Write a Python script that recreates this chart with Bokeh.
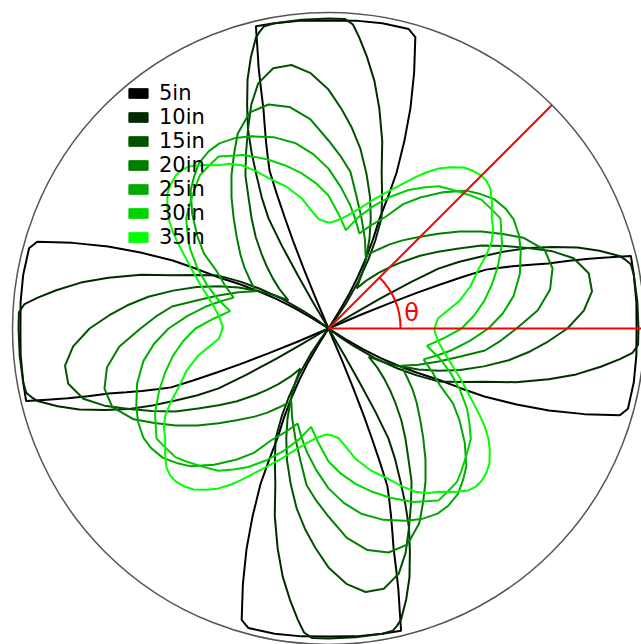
import numpy as np
from bokeh.plotting import figure
from bokeh.models import Range1d, Legend, LegendItem
from bokeh.core.properties import value
from bokeh.embed import file_html
from bokeh.resources import INLINE

# ---- data (one 90-degree period of each curve, angle in degrees, radius as a fraction
#      of the outer circle; the pattern repeats every 90 degrees)
labels = ["5in", "10in", "15in", "20in", "25in", "30in", "35in"]
colors = ["#000000", "#002a00", "#005500", "#007f00", "#00aa00", "#00d400", "#00ff00"]

theta_5in = [-45, -33, -32, -31, -29.5, -28, -26.5, -25, -24.3, -23.6, -22, -20.4, -18.5, -16.6, -15,
             -10, -5, 0, 5, 10, 13.5, 14.2, 15, 15.7, 16.5, 17.5, 18.5, 19.5, 20.5, 21, 21.5, 22, 22.5, 23, 23.5]
r_5in = [0, 0, 0.063, 0.127, 0.190, 0.253, 0.316, 0.380, 0.459, 0.538, 0.642, 0.744, 0.854, 0.962, 0.981,
         0.981, 0.978, 0.975, 0.978, 0.981, 0.984, 0.918, 0.854, 0.791, 0.725, 0.671, 0.623, 0.576, 0.532,
         0.459, 0.380, 0.301, 0.206, 0.111, 0]

theta_10in = [-45, -38, -36.5, -35, -32.5, -30, -28, -25.7, -22, -18.8, -16, -13, -10.5, -8, -6, -4.6, -3,
              0, 5, 10, 12, 13, 14, 16, 18, 20, 22, 23.6, 25.2, 27, 28.6, 29.4, 30, 30.5, 31]
r_10in = [0, 0, 0.047, 0.095, 0.174, 0.253, 0.316, 0.386, 0.453, 0.522, 0.617, 0.715, 0.797, 0.870, 0.927,
          0.965, 0.981, 0.981, 0.981, 0.981, 0.978, 0.965, 0.949, 0.892, 0.829, 0.753, 0.680, 0.608, 0.535,
          0.465, 0.396, 0.301, 0.190, 0.095, 0]

theta_15in = [-35, -31.5, -28, -24.5, -21, -17.5, -13.7, -10, -6.5, -3.4, 0, 4, 8, 12, 16, 19, 22, 25,
              28.5, 31.5, 35, 38.5, 42, 45, 48, 51.5]
r_15in = [0.155, 0.203, 0.253, 0.313, 0.373, 0.437, 0.506, 0.579, 0.642, 0.696, 0.756, 0.810, 0.842, 0.842,
          0.807, 0.750, 0.680, 0.617, 0.551, 0.484, 0.424, 0.370, 0.316, 0.275, 0.237, 0.196]

theta_20in = [-27, -22, -16.7, -12, -8, -4, 0, 5, 10, 15, 20, 25, 28.5, 32.4, 36.5, 40.8, 45, 50, 54, 58]
r_20in = [0.259, 0.307, 0.364, 0.427, 0.500, 0.547, 0.595, 0.665, 0.712, 0.734, 0.728, 0.680, 0.627, 0.573,
          0.516, 0.459, 0.411, 0.364, 0.329, 0.294]

theta_25in = [-18, -14, -10, -5, 0, 5, 10, 16, 21.8, 26, 30.5, 34, 38, 41.5, 45, 50, 55, 59, 63, 67.5]
r_25in = [0.316, 0.354, 0.396, 0.449, 0.506, 0.554, 0.595, 0.630, 0.655, 0.671, 0.680, 0.677, 0.665, 0.642,
          0.617, 0.563, 0.506, 0.459, 0.396, 0.354]

theta_30in = [-10, -5, 0, 5, 10, 15, 20, 26, 32.6, 36.4, 40, 42.9, 47, 52.2, 56, 60, 65, 70, 75]
r_30in = [0.316, 0.364, 0.421, 0.462, 0.500, 0.535, 0.570, 0.611, 0.646, 0.639, 0.633, 0.617, 0.595, 0.570,
          0.538, 0.506, 0.459, 0.411, 0.364]

theta_35in = [-1, 2, 5.2, 8.5, 11.7, 16.5, 21.8, 25, 28, 31, 34, 37.5, 40.8, 43, 45, 47.5, 50, 53, 55.5,
              58, 60, 63, 66.3, 70.5, 75, 79, 83, 86]
r_35in = [0.335, 0.339, 0.348, 0.380, 0.421, 0.468, 0.513, 0.551, 0.585, 0.608, 0.623, 0.652, 0.677, 0.684,
          0.684, 0.677, 0.665, 0.639, 0.614, 0.582, 0.554, 0.513, 0.475, 0.434, 0.396, 0.370, 0.351, 0.342]

thetas = [theta_5in, theta_10in, theta_15in, theta_20in, theta_25in, theta_30in, theta_35in]
radii = [r_5in, r_10in, r_15in, r_20in, r_25in, r_30in, r_35in]

# ---- figure
W, H = 641, 644
CX, CY = 328, 328          # pixel of the origin (from left / from top)
S = 316.0                  # pixels per data unit (circle radius = 1)

p = figure(width=W, height=H, output_backend="svg", toolbar_location=None,
           x_range=Range1d(-CX / S, (W - CX) / S),
           y_range=Range1d(-(H - CY) / S, CY / S),
           min_border=0, outline_line_color=None)
p.axis.visible = False
p.grid.visible = False
p.background_fill_color = "white"
p.border_fill_color = "white"

# outer circle
p.circle(x=[0], y=[0], radius=1.0, fill_color=None, line_color="#555555", line_width=1.5)

legend_items = []
for lab, col, th, rr in zip(labels, colors, thetas, radii):
    th = np.asarray(th, dtype=float)
    rr = np.asarray(rr, dtype=float)
    full_t = np.concatenate([th + 90 * k for k in range(4)])
    full_r = np.tile(rr, 4)
    full_t = np.append(full_t, full_t[0] + 360)
    full_r = np.append(full_r, full_r[0])
    a = np.deg2rad(full_t)
    p.line(full_r * np.cos(a), full_r * np.sin(a), line_color=col, line_width=2)
    sw = p.quad(left=[np.nan], right=[np.nan], top=[np.nan], bottom=[np.nan],
                fill_color=col, line_color=col)
    legend_items.append(LegendItem(label=lab, renderers=[sw]))

# angle annotation
p.ray(x=[0, 0], y=[0, 0], length=1.0, angle=[0, np.pi / 4], line_color="red", line_width=2)
p.arc(x=[0], y=[0], radius=0.228, start_angle=0, end_angle=np.pi / 4, line_color="red", line_width=2)
p.text(x=[0.24], y=[0.05], text=["θ"], text_color="red", text_font_size="24px",
       text_baseline="middle", text_align="left", text_font=value("DejaVu Sans"))

legend = Legend(items=legend_items, location=(126, 395), orientation="vertical",
                glyph_width=24, glyph_height=12, label_standoff=9, spacing=0,
                label_text_font_size="21px", label_height=20, label_text_font="DejaVu Sans",
                label_text_color="black", label_text_line_height=1.11,
                padding=0, margin=0, border_line_color=None, background_fill_alpha=0)
p.add_layout(legend, "center")

open("out.html", "w").write(file_html(p, INLINE))
